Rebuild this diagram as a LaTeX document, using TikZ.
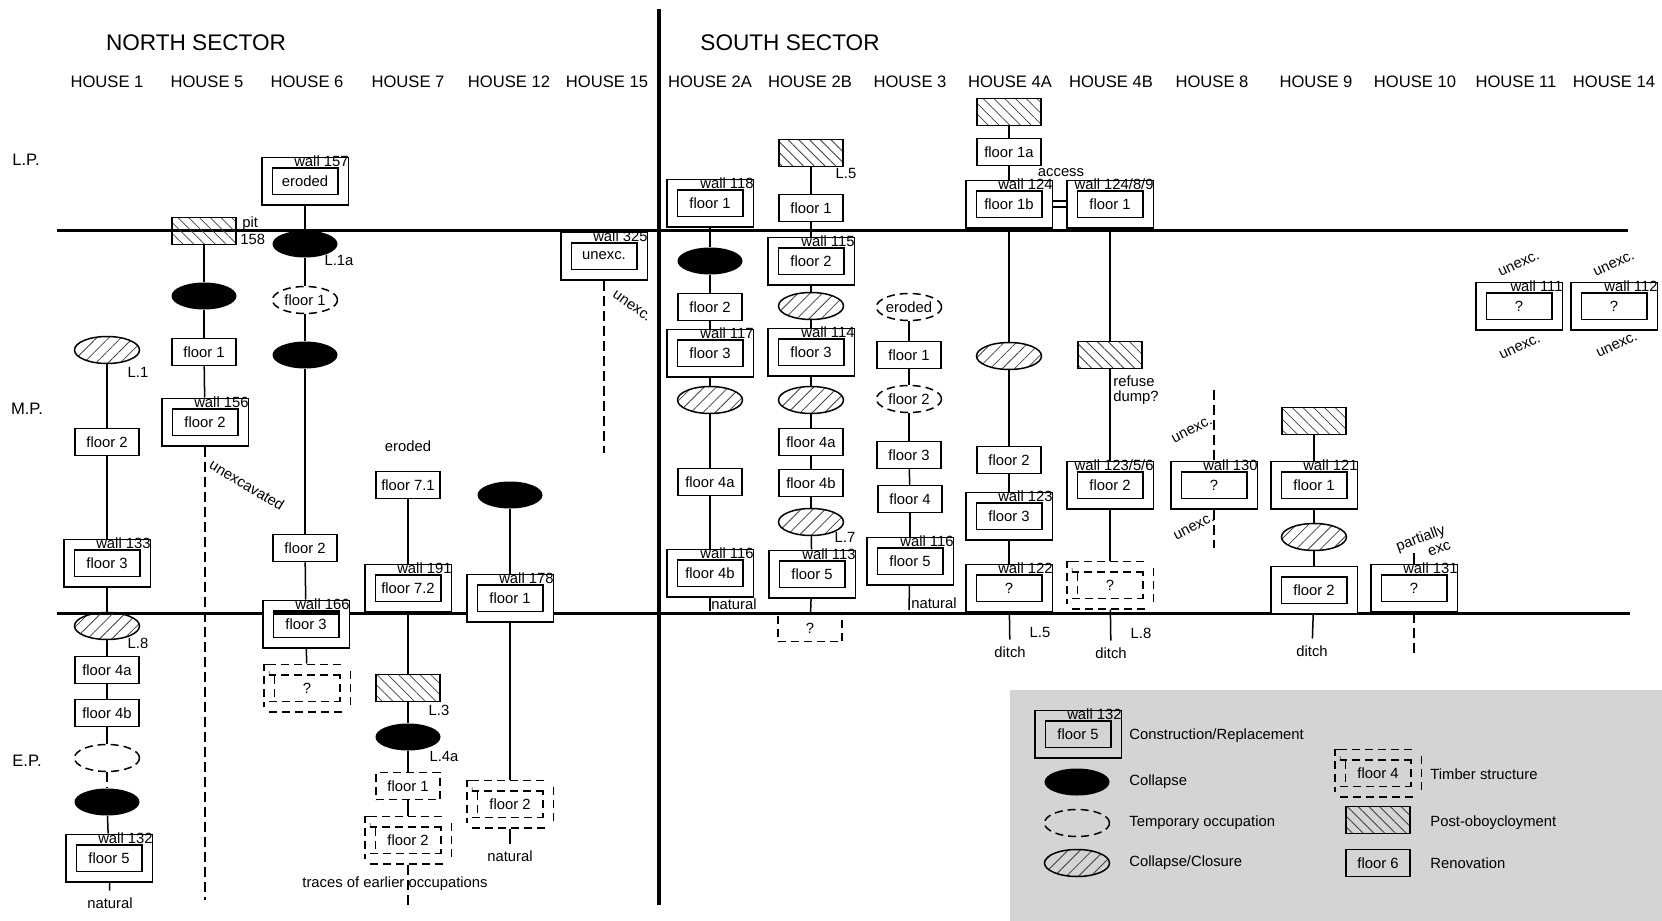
\documentclass[tikz,border=0pt]{standalone}
\usepackage{fontspec}
\setmainfont{Liberation Sans}
\usetikzlibrary{shapes.geometric,patterns.meta}
\definecolor{legendgray}{RGB}{212,212,212}
\begin{document}
\begin{tikzpicture}[x=0.5pt, y=-0.5pt,
    font=\fontsize{7.4}{8}\selectfont,
    period/.style={line width=1.5pt},
    link/.style={line width=0.75pt},
    dlink/.style={line width=0.75pt, dash pattern=on 5pt off 2.5pt},
    house/.style={font=\fontsize{8.3}{9}\selectfont},
    sector/.style={font=\fontsize{11.3}{12}\selectfont},
    ann/.style={inner sep=0pt},
    reno/.style={draw, line width=0.75pt, minimum width=32pt, minimum height=13.5pt, inner sep=1pt},
    dreno/.style={reno, dash pattern=on 4pt off 2.5pt},
    box2/.style={draw, line width=0.75pt, double, double distance=4.5pt, outer sep=3pt, minimum width=38pt, minimum height=18.5pt, inner sep=1pt},
    cons/.style={box2, label={[anchor=north east, inner sep=0pt, yshift=0.5pt]north east:wall #1}},
    timber/.style={box2, dash pattern=on 4pt off 2.5pt},
    collapse/.style={ellipse, fill=black, minimum width=32.5pt, minimum height=13.5pt, inner sep=0pt},
    temp/.style={ellipse, draw, line width=0.75pt, dash pattern=on 4pt off 2.5pt, minimum width=32.5pt, minimum height=13.5pt, inner sep=0pt},
    closure/.style={ellipse, draw, line width=0.75pt, pattern={Lines[angle=45, distance=4.3pt, line width=0.4pt]}, pattern color=black!75, minimum width=32.5pt, minimum height=13.5pt, inner sep=0pt},
    post/.style={draw, line width=0.75pt, pattern={Lines[angle=-45, distance=3.8pt, line width=0.4pt]}, pattern color=black!75, minimum width=32pt, minimum height=13.5pt}]
   \useasboundingbox (0,0) rectangle (1662,921);
   \fill[legendgray] (1010,690) rectangle (1662,921);
   \draw[period] (57,230) -- (1628,230);
   \draw[period] (57,613) -- (1630,613);
   \draw[line width=1.75pt] (659,9) -- (659,905);

   \node[sector] (north) at (196,43) {NORTH SECTOR};
   \node[sector] (south) at (790,43) {SOUTH SECTOR};
   \node[house] (hs1) at (107,82) {HOUSE 1};
   \node[house] (hs5) at (207,82) {HOUSE 5};
   \node[house] (hs6) at (307,82) {HOUSE 6};
   \node[house] (hs7) at (408,82) {HOUSE 7};
   \node[house] (hs12) at (509,82) {HOUSE 12};
   \node[house] (hs15) at (607,82) {HOUSE 15};
   \node[house] (hs2a) at (710,82) {HOUSE 2A};
   \node[house] (hs2b) at (810,82) {HOUSE 2B};
   \node[house] (hs3) at (910,82) {HOUSE 3};
   \node[house] (hs4a) at (1010,82) {HOUSE 4A};
   \node[house] (hs4b) at (1111,82) {HOUSE 4B};
   \node[house] (hs8) at (1212,82) {HOUSE 8};
   \node[house] (hs9) at (1316,82) {HOUSE 9};
   \node[house] (hs10) at (1415,82) {HOUSE 10};
   \node[house] (hs11) at (1516,82) {HOUSE 11};
   \node[house] (hs14) at (1614,82) {HOUSE 14};
   \node[house] (lp) at (26,160) {L.P.};
   \node[house] (mp) at (27,409) {M.P.};
   \node[house] (ep) at (27,761) {E.P.};

   \node[closure] (a1) at (107,350) {};
   \node[ann] (a1l) at (138,372) {L.1};
   \node[reno] (a2) at (107,442) {floor 2};
   \node[cons=133] (a3) at (107,563) {floor 3};
   \node[closure] (a4) at (107,626) {};
   \node[ann] (a4l) at (138,643) {L.8};
   \node[reno] (a5) at (107,670) {floor 4a};
   \node[reno] (a6) at (107,713) {floor 4b};
   \node[temp] (a7) at (107,758) {};
   \node[collapse] (a8) at (107,802) {};
   \node[cons=132] (a9) at (109,858) {floor 5};
   \node (nat1) at (110,903) {natural};

   \node[post] (b1) at (204,231) {};
   \node[ann, anchor=west] (b1l) at (242,224) {pit};
   \node[ann, anchor=west] (b1m) at (240,239) {158};
   \node[collapse] (b2) at (204,296) {};
   \node[reno] (b3) at (204,352) {floor 1};
   \node[cons=156] (b4) at (205,422) {floor 2};
   \coordinate (e5) at (205,900);
   \node[ann, rotate=-31] (ux5) at (247,485) {unexcavated};

   \node[cons=157] (c1) at (305,181) {eroded};
   \node[collapse] (c2) at (305,244) {};
   \node[ann] (c2l) at (339,260) {L.1a};
   \node[temp] (c3) at (305,300) {floor 1};
   \node[collapse] (c4) at (305,355) {};
   \node[reno] (c5) at (305,548) {floor 2};
   \node[cons=166] (c6) at (306,624) {floor 3};
   \node[timber] (c7) at (307,688) {?};

   \node (er7) at (408,446) {eroded};
   \node[reno] (d1) at (408,485) {floor 7.1};
   \node[cons=191] (d2) at (408,588) {floor 7.2};
   \node[post] (d3) at (408,688) {};
   \node[ann] (d3l) at (439,710) {L.3};
   \node[collapse] (d4) at (408,737) {};
   \node[ann] (d4l) at (444,756) {L.4a};
   \node[dreno] (d5) at (408,786) {floor 1};
   \node[timber] (d6) at (408,840) {floor 2};
   \coordinate (e7) at (408,905);
   \node[ann] (tr7) at (395,884) {traces of earlier occupations};

   \node[collapse] (f1) at (510,495) {};
   \node[cons=178] (f2) at (510,598) {floor 1};
   \node[timber] (f3) at (510,804) {floor 2};
   \node (nat12) at (510,856) {natural};

   \node[cons=325] (g1) at (604,256) {unexc.};
   \coordinate (e15) at (604,453);
   \node[ann, rotate=-35] (ux15) at (632,306) {unexc.};

   \node[cons=118] (h1) at (710,203) {floor 1};
   \node[collapse] (h2) at (710,261) {};
   \node[reno] (h3) at (710,307) {floor 2};
   \node[cons=117] (h4) at (710,353) {floor 3};
   \node[closure] (h5) at (710,400) {};
   \node[reno] (h6) at (710,482) {floor 4a};
   \node[cons=116] (h7) at (710,573) {floor 4b};
   \coordinate (n2a) at (710,611);
   \node[ann, anchor=west] (nat2a) at (711,604) {natural};

   \node[post] (i1) at (811,153) {};
   \node[ann] (i1l) at (846,173) {L.5};
   \node[reno] (i2) at (811,208) {floor 1};
   \node[cons=115] (i3) at (811,261) {floor 2};
   \node[closure] (i4) at (811,306) {};
   \node[cons=114] (i5) at (811,352) {floor 3};
   \node[closure] (i6) at (811,400) {};
   \node[reno] (i7) at (811,442) {floor 4a};
   \node[reno] (i8) at (811,483) {floor 4b};
   \node[closure] (i9) at (811,522) {};
   \node[ann] (i9l) at (845,537) {L.7};
   \node[cons=113] (i10) at (812,574) {floor 5};
   \node[dreno] (i11) at (810,628) {?};

   \node[temp] (j1) at (909,307) {eroded};
   \node[reno] (j2) at (909,355) {floor 1};
   \node[temp] (j3) at (909,399) {floor 2};
   \node[reno] (j4) at (909,455) {floor 3};
   \node[reno] (j5) at (910,499) {floor 4};
   \node[cons=116] (j6) at (910,561) {floor 5};
   \coordinate (n3) at (909,610);
   \node[ann, anchor=west] (nat3) at (911,603) {natural};

   \node[post] (k1) at (1009,112) {};
   \node[reno] (k2) at (1009,152) {floor 1a};
   \node[ann] (acc) at (1061,173) {access};
   \node[cons=124] (k3) at (1009,204) {floor 1b};
   \node[closure] (k4) at (1009,356) {};
   \node[reno] (k5) at (1009,460) {floor 2};
   \node[cons=123] (k6) at (1009,516) {floor 3};
   \node[cons=122] (k7) at (1009,588) {?};
   \node[ann] (k7l) at (1040,632) {L.5};
   \node (dt4a) at (1010,652) {ditch};

   \node[cons=124/8/9] (l1) at (1110,204) {floor 1};
   \node[post] (l2) at (1110,355) {};
   \node[ann, anchor=west, align=left, font=\fontsize{7.4}{7.6}\selectfont] (l2l) at (1113,390) {refuse\\dump?};
   \node[cons=123/5/6] (l3) at (1110,485) {floor 2};
   \node[timber] (l4) at (1110,585) {?};
   \node[ann] (l4l) at (1141,633) {L.8};
   \node (dt4b) at (1111,653) {ditch};

   \coordinate (t8) at (1214,390);
   \node[cons=130] (m1) at (1214,485) {?};
   \coordinate (b8) at (1214,548);
   \node[ann, rotate=27] (ux8a) at (1192,430) {unexc.};
   \node[ann, rotate=27] (ux8b) at (1194,527) {unexc.};

   \node[post] (o1) at (1314,421) {};
   \node[cons=121] (o2) at (1314,485) {floor 1};
   \node[closure] (o3) at (1314,537) {};
   \node[box2] (o4) at (1314,590) {floor 2};
   \node (dt9) at (1312,651) {ditch};

   \node[ann, rotate=20, align=right] (px10) at (1423,545) {partially\\exc};
   \coordinate (t10) at (1414,553);
   \node[cons=131] (p1) at (1414,588) {?};
   \coordinate (b10) at (1414,653);

   \node[cons=111] (q1) at (1519,306) {?};
   \node[ann, rotate=25] (ux11a) at (1519,264) {unexc.};
   \node[ann, rotate=25] (ux11b) at (1520,347) {unexc.};
   \node[cons=112] (r1) at (1614,306) {?};
   \node[ann, rotate=25] (ux14a) at (1614,264) {unexc.};
   \node[ann, rotate=25] (ux14b) at (1617,345) {unexc.};

   \node[cons=132, double=legendgray] (lg1) at (1078,734) {floor 5};
   \node[ann, anchor=west] (lt1) at (1129,736) {Construction/Replacement};
   \node[collapse] (lg2) at (1077,782) {};
   \node[ann, anchor=west] (lt2) at (1129,782) {Collapse};
   \node[temp] (lg3) at (1077,823) {};
   \node[ann, anchor=west] (lt3) at (1129,823) {Temporary occupation};
   \node[closure] (lg4) at (1077,863) {};
   \node[ann, anchor=west] (lt4) at (1129,863) {Collapse/Closure};
   \node[timber, double=legendgray] (lg5) at (1378,773) {floor 4};
   \node[ann, anchor=west] (lt5) at (1430,774) {Timber structure};
   \node[post] (lg6) at (1378,820) {};
   \node[ann, anchor=west] (lt6) at (1430,823) {Post-oboycloyment};
   \node[reno] (lg7) at (1378,863) {floor 6};
   \node[ann, anchor=west] (lt7) at (1430,863) {Renovation};

   \draw[link] (a1) -- (a2);
   \draw[link] (a2) -- (a3);
   \draw[link] (a3) -- (a4);
   \draw[link] (a4) -- (a5);
   \draw[link] (a5) -- (a6);
   \draw[link] (a6) -- (a7);
   \draw[dlink] (a7) -- (a8);
   \draw[link] (a8) -- (a9);
   \draw[link] (a9) -- (nat1);
   \draw[link] (b1) -- (b2);
   \draw[link] (b2) -- (b3);
   \draw[link] (b3) -- (b4);
   \draw[dlink] (b4) -- (e5);
   \draw[link] (c1) -- (c2);
   \draw[link] (c2) -- (c3);
   \draw[link] (c3) -- (c4);
   \draw[link] (c4) -- (c5);
   \draw[link] (c5) -- (c6);
   \draw[link] (c6) -- (c7);
   \draw[link] (d1) -- (d2);
   \draw[link] (d2) -- (d3);
   \draw[link] (d3) -- (d4);
   \draw[link] (d4) -- (d5);
   \draw[link] (d5) -- (d6);
   \draw[dlink] (d6) -- (e7);
   \draw[link] (f1) -- (f2);
   \draw[link] (f2) -- (f3);
   \draw[link] (f3) -- (nat12);
   \draw[dlink] (g1) -- (e15);
   \draw[link] (h1) -- (h2);
   \draw[link] (h2) -- (h3);
   \draw[link] (h3) -- (h4);
   \draw[link] (h4) -- (h5);
   \draw[link] (h5) -- (h6);
   \draw[link] (h6) -- (h7);
   \draw[link] (h7) -- (n2a);
   \draw[link] (i1) -- (i2);
   \draw[link] (i2) -- (i3);
   \draw[link] (i3) -- (i4);
   \draw[link] (i4) -- (i5);
   \draw[link] (i5) -- (i6);
   \draw[link] (i6) -- (i7);
   \draw[link] (i7) -- (i8);
   \draw[link] (i8) -- (i9);
   \draw[link] (i9) -- (i10);
   \draw[link] (i10) -- (i11);
   \draw[link] (j1) -- (j2);
   \draw[link] (j2) -- (j3);
   \draw[link] (j3) -- (j4);
   \draw[link] (j4) -- (j5);
   \draw[link] (j5) -- (j6);
   \draw[link] (j6) -- (n3);
   \draw[link] (k1) -- (k2);
   \draw[link] (k2) -- (k3);
   \draw[link] (k3) -- (k4);
   \draw[link] (k4) -- (k5);
   \draw[link] (k5) -- (k6);
   \draw[link] (k6) -- (k7);
   \draw[link] (k7) -- (dt4a);
   \draw[link] ([yshift=1.5pt]k3.east) -- ([yshift=1.5pt]l1.west);
   \draw[link] ([yshift=-1.5pt]k3.east) -- ([yshift=-1.5pt]l1.west);
   \draw[link] (l1) -- (l2);
   \draw[link] (l2) -- (l3);
   \draw[link] (l3) -- (l4);
   \draw[link] (l4) -- (dt4b);
   \draw[dlink] (t8) -- (m1);
   \draw[dlink] (m1) -- (b8);
   \draw[link] (o1) -- (o2);
   \draw[link] (o2) -- (o3);
   \draw[link] (o3) -- (o4);
   \draw[link] (o4) -- (dt9);
   \draw[link] (t10) -- (p1);
   \draw[dlink] (p1) -- (b10);
 \end{tikzpicture}
\end{document}
